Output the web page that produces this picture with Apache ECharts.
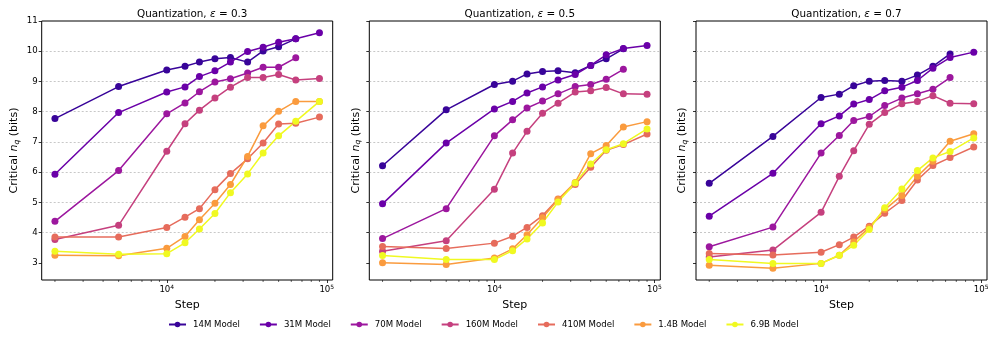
<!DOCTYPE html>
<html>
<head>
<meta charset="utf-8">
<script src="https://cdn.jsdelivr.net/npm/echarts@6/dist/echarts.min.js"></script>
<style>
  html, body { margin: 0; padding: 0; background: #fff; }
  #chart { width: 996px; height: 339px; }
</style>
</head>
<body>
<div id="chart"></div>
<script>
// Training steps at which the critical bit-width was measured
const steps = [2000, 5000, 10000, 13000, 16000, 20000, 25000, 32000, 40000, 50000, 64000, 90000];

const models = ['14M Model', '31M Model', '70M Model', '160M Model', '410M Model', '1.4B Model', '6.9B Model'];
const modelColors = ['#380499', '#6a00a8', '#9c179e', '#c5407e', '#e66c5c', '#fa9b3e', '#f0f921'];

const epsilons = ['0.3', '0.5', '0.7'];

// Critical n_q (bits) per model, epsilon = 0.3
const eps03_14M  = [7.77, 8.83, 9.38, 9.50, 9.64, 9.75, 9.79, 9.64, 10.01, 10.15, 10.41];
const eps03_31M  = [5.93, 7.97, 8.65, 8.82, 9.16, 9.35, 9.64, 9.99, 10.13, 10.30, 10.41, 10.61];
const eps03_70M  = [4.37, 6.05, 7.93, 8.29, 8.66, 8.98, 9.09, 9.28, 9.47, 9.47, 9.78];
const eps03_160M = [3.77, 4.24, 6.69, 7.60, 8.05, 8.45, 8.81, 9.13, 9.13, 9.23, 9.05, 9.10];
const eps03_410M = [3.85, 3.85, 4.17, 4.51, 4.79, 5.42, 5.95, 6.44, 6.96, 7.59, 7.62, 7.82];
const eps03_1_4B = [3.25, 3.23, 3.48, 3.87, 4.42, 4.97, 5.59, 6.52, 7.53, 8.01, 8.34, 8.34];
const eps03_6_9B = [3.38, 3.28, 3.30, 3.66, 4.12, 4.63, 5.32, 5.94, 6.63, 7.20, 7.68, 8.34];

// epsilon = 0.5
const eps05_14M  = [6.21, 8.06, 8.90, 9.01, 9.25, 9.33, 9.35, 9.29, 9.53, 9.75, 10.08];
const eps05_31M  = [4.95, 6.96, 8.09, 8.34, 8.62, 8.82, 9.05, 9.23, 9.53, 9.88, 10.09, 10.19];
const eps05_70M  = [3.80, 4.79, 7.20, 7.73, 8.12, 8.35, 8.59, 8.83, 8.90, 9.07, 9.40];
const eps05_160M = [3.38, 3.73, 5.43, 6.63, 7.35, 7.95, 8.28, 8.65, 8.69, 8.80, 8.59, 8.58];
const eps05_410M = [3.54, 3.47, 3.65, 3.88, 4.17, 4.56, 5.11, 5.59, 6.16, 6.72, 6.91, 7.26];
const eps05_1_4B = [3.00, 2.94, 3.16, 3.46, 3.93, 4.49, 5.09, 5.66, 6.61, 6.88, 7.49, 7.67];
const eps05_6_9B = [3.24, 3.11, 3.11, 3.40, 3.79, 4.32, 5.01, 5.64, 6.27, 6.74, 6.94, 7.43];

// epsilon = 0.7
const eps07_14M  = [5.63, 7.18, 8.47, 8.58, 8.86, 9.01, 9.03, 9.01, 9.21, 9.50, 9.91];
const eps07_31M  = [4.54, 5.96, 7.60, 7.86, 8.25, 8.40, 8.69, 8.81, 9.03, 9.44, 9.79, 9.97];
const eps07_70M  = [3.53, 4.18, 6.63, 7.21, 7.71, 7.84, 8.20, 8.45, 8.59, 8.74, 9.13];
const eps07_160M = [3.19, 3.42, 4.67, 5.86, 6.71, 7.58, 7.97, 8.26, 8.34, 8.53, 8.28, 8.26];
const eps07_410M = [3.31, 3.26, 3.35, 3.60, 3.85, 4.21, 4.64, 5.06, 5.74, 6.22, 6.48, 6.83];
const eps07_1_4B = [2.92, 2.82, 2.98, 3.25, 3.69, 4.17, 4.76, 5.23, 5.86, 6.36, 7.02, 7.27];
const eps07_6_9B = [3.11, 2.98, 2.98, 3.25, 3.58, 4.10, 4.82, 5.44, 6.05, 6.47, 6.68, 7.13];

const panelValues = [
  [eps03_14M, eps03_31M, eps03_70M, eps03_160M, eps03_410M, eps03_1_4B, eps03_6_9B],
  [eps05_14M, eps05_31M, eps05_70M, eps05_160M, eps05_410M, eps05_1_4B, eps05_6_9B],
  [eps07_14M, eps07_31M, eps07_70M, eps07_160M, eps07_410M, eps07_1_4B, eps07_6_9B]
];

// Axis ticks and limits
const yTicks = [3, 4, 5, 6, 7, 8, 9, 10, 11];
const xMajorTicks = [10000, 100000];
const xMinorTicks = [2000, 3000, 4000, 5000, 6000, 7000, 8000, 9000,
                     20000, 30000, 40000, 50000, 60000, 70000, 80000, 90000];
const X_MIN = 1653, X_MAX = 108900;
const Y_MIN = 2.43, Y_MAX = 11.0;

const FONT = 'DejaVu Sans';
const gridLefts = [41.7, 369.3, 696];
const GRID_W = 291, GRID_TOP = 21, GRID_H = 259;

const gridLine = { show: true, showMinLine: false, showMaxLine: false,
                   lineStyle: { color: '#b0b0b0', width: 0.7, type: [2, 2] } };

const grids = [], xAxes = [], yAxes = [], titles = [], series = [];

gridLefts.forEach((left, p) => {
  grids.push({
    left: left, top: GRID_TOP, width: GRID_W, height: GRID_H,
    show: true, borderColor: '#000', borderWidth: 1, backgroundColor: 'transparent'
  });

  titles.push({
    text: 'Quantization, {it|ε} = ' + epsilons[p],
    left: left + GRID_W / 2, top: 4, textAlign: 'center',
    textStyle: {
      fontFamily: FONT, fontSize: 10.4, fontWeight: 'normal', color: '#000',
      rich: { it: { fontFamily: FONT, fontSize: 10.4, fontStyle: 'italic', color: '#000' } }
    }
  });

  xAxes.push({
    type: 'log', logBase: 10, gridIndex: p, min: X_MIN, max: X_MAX,
    name: 'Step', nameLocation: 'middle', nameGap: 17,
    nameTextStyle: { fontFamily: FONT, fontSize: 11, color: '#000' },
    axisLine: { show: false },
    axisTick: { show: true, inside: false, length: 3, customValues: xMajorTicks,
                lineStyle: { color: '#000', width: 0.8 } },
    axisLabel: {
      show: true, margin: 4, customValues: xMajorTicks,
      fontFamily: FONT, fontSize: 8.6, color: '#000',
      formatter: v => '{b|10}{sup|' + Math.round(Math.log10(v)) + '}',
      rich: {
        b: { fontFamily: FONT, fontSize: 8.6, color: '#000' },
        sup: { fontFamily: FONT, fontSize: 6, color: '#000', padding: [0, 0, 6, 0] }
      }
    },
    minorTick: { show: false },
    splitLine: gridLine
  });

  yAxes.push({
    type: 'value', gridIndex: p, min: Y_MIN, max: Y_MAX,
    name: 'Critical {it|n}{sub|q} (bits)', nameLocation: 'middle', nameRotate: 90,
    nameGap: p === 0 ? 21 : 7,
    nameTextStyle: {
      fontFamily: FONT, fontSize: 11, color: '#000',
      rich: {
        it: { fontFamily: FONT, fontSize: 11, fontStyle: 'italic', color: '#000' },
        sub: { fontFamily: FONT, fontSize: 7.5, fontStyle: 'italic', color: '#000', padding: [5, 0, 0, 0] }
      }
    },
    axisLine: { show: false },
    axisTick: { show: true, inside: false, length: 3, customValues: yTicks,
                lineStyle: { color: '#000', width: 0.8 } },
    axisLabel: { show: p === 0, margin: 4, customValues: yTicks,
                 fontFamily: FONT, fontSize: 8.6, color: '#000' },
    splitLine: gridLine
  });

  // Minor ticks on the log x axis (2..9 x 10^k)
  series.push({
    type: 'custom', xAxisIndex: p, yAxisIndex: p, silent: true, clip: false, z: 1,
    data: xMinorTicks.map(v => [v, Y_MIN]),
    renderItem: (params, api) => {
      const pt = api.coord([api.value(0), api.value(1)]);
      return {
        type: 'line',
        shape: { x1: pt[0], y1: pt[1], x2: pt[0], y2: pt[1] + 2 },
        style: { stroke: '#000', lineWidth: 0.6 }
      };
    }
  });

  panelValues[p].forEach((vals, m) => {
    series.push({
      name: models[m], type: 'line', xAxisIndex: p, yAxisIndex: p,
      data: vals.map((v, i) => [steps[i], v]),
      symbol: 'circle', symbolSize: 7, showSymbol: true,
      color: modelColors[m],
      lineStyle: { width: 1.5, color: modelColors[m] },
      itemStyle: { color: modelColors[m] },
      emphasis: { disabled: true },
      z: 3
    });
  });
});

const chart = echarts.init(document.getElementById('chart'), null, { renderer: 'canvas' });
chart.setOption({
  animation: false,
  backgroundColor: '#fff',
  title: titles,
  grid: grids,
  xAxis: xAxes,
  yAxis: yAxes,
  legend: {
    data: models,
    left: 163, top: 315,
    itemWidth: 17, itemHeight: 7, itemGap: 19,
    textStyle: { fontFamily: FONT, fontSize: 8.6, color: '#000', padding: [0, 0, 0, 2] }
  },
  series: series
});
</script>
</body>
</html>
